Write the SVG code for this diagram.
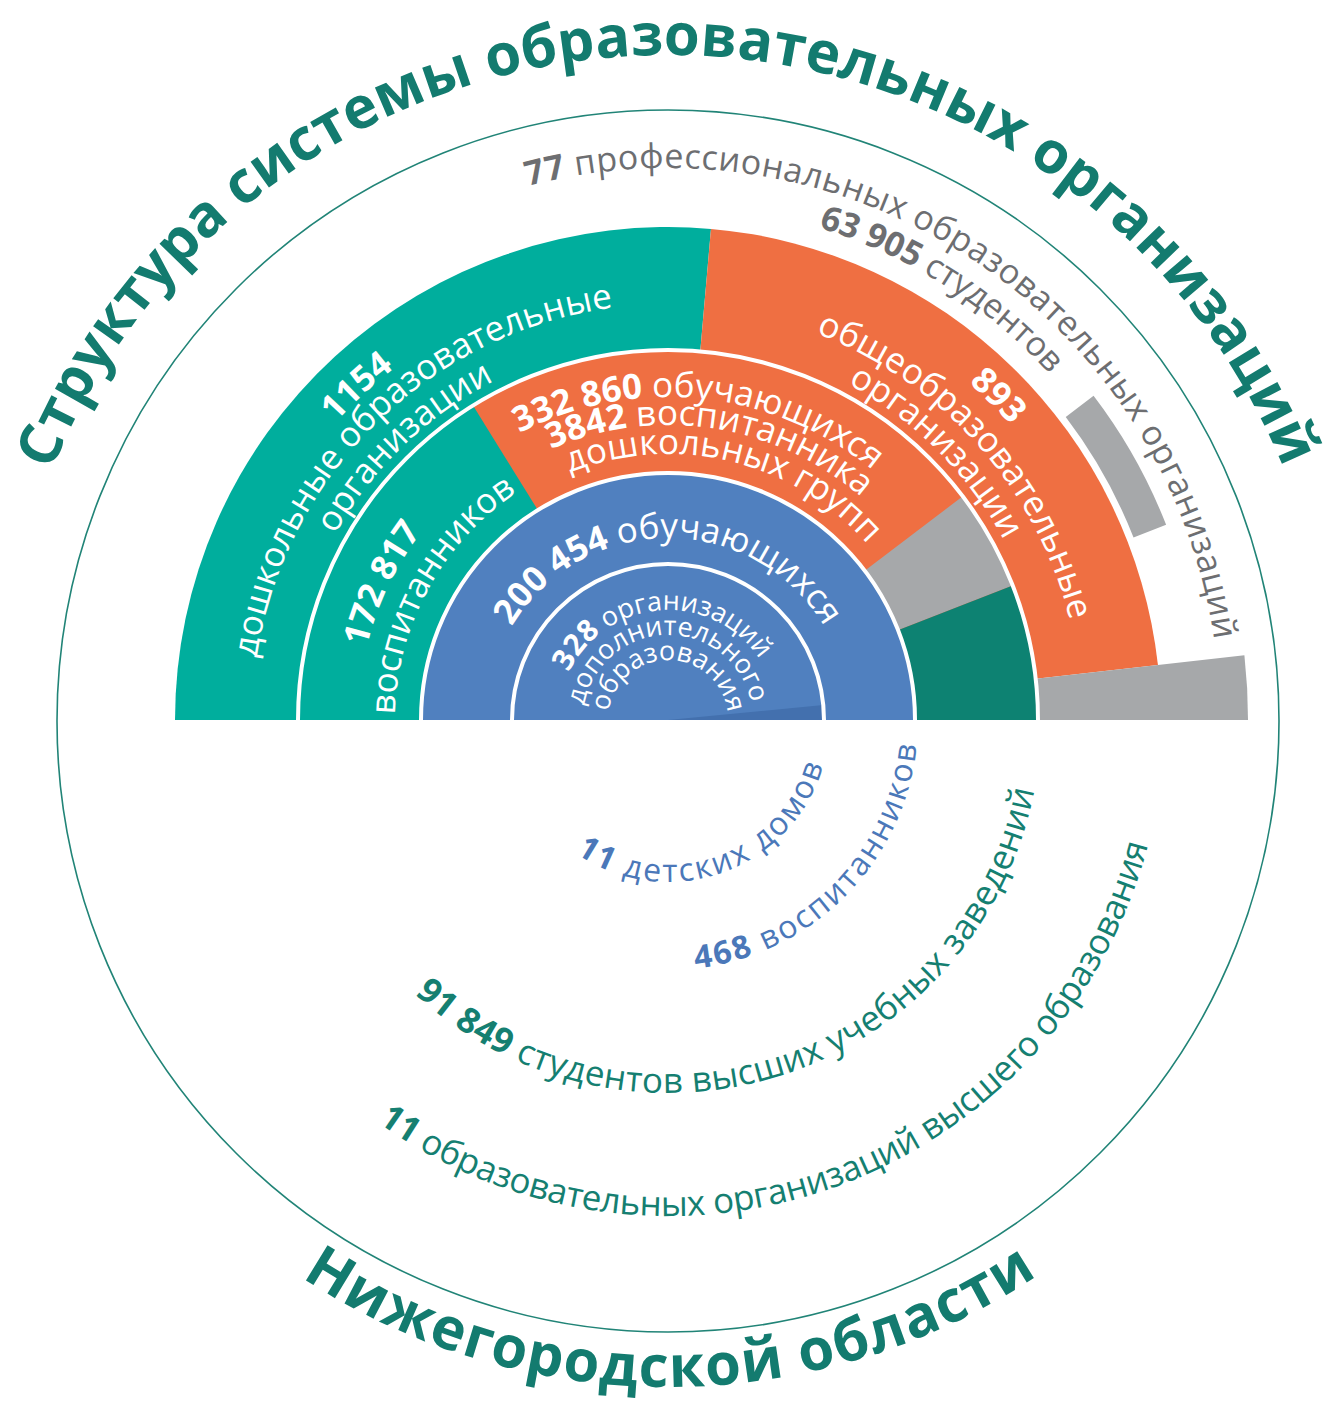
<svg xmlns="http://www.w3.org/2000/svg" width="1332" height="1404" viewBox="0 0 1332 1404">
<style>
text { font-family: "Open Sans", "Noto Sans", "DejaVu Sans", sans-serif; }
.title { font-size: 58px; font-weight: 700; fill: #137b6f; }
.ring { font-size: 35px; fill: #ffffff; }
.inner { font-size: 27px; fill: #ffffff; }
.gray { font-size: 34px; fill: #6d6e71; }
.blue { font-size: 32px; fill: #4b78b9; }
.teal { font-size: 35px; fill: #157f71; }
.b { font-weight: 700; }
.sep { fill: none; stroke: #ffffff; stroke-width: 4; }
.c-teal { fill: #00ae9d; }
.c-orange { fill: #ef6f42; }
.c-blue { fill: #5080bf; }
.c-gray { fill: #a6a8aa; }
.c-green { fill: #0d8272; }
</style>
<defs>
<path id="pTitle" d="M51.43,470.88 A665,665 0 0,1 1283.26,467.66"/>
<path id="pTitle2" d="M301.8,1277.5 A667,667 0 0,0 1037.1,1275.6"/>
<path id="p77" d="M527.92,186.07 A552,552 0 0,1 1214.22,640.31"/>
<path id="p63" d="M818.57,227.51 A515,515 0 0,1 1049.51,374.06"/>
<path id="p1154" d="M225.32,665.65 A446,446 0 0,1 644.66,274.61"/>
<path id="pDosh" d="M252.14,709.11 A416,416 0 0,1 664.37,304.02"/>
<path id="pOrg1" d="M289.09,680.17 A381,381 0 0,1 641.42,339.93"/>
<path id="p172" d="M358.11,711.88 A310,310 0 0,1 466.67,484.27"/>
<path id="pVosp" d="M395.0,718.57 A273,273 0 0,1 520.51,490.27"/>
<path id="p332" d="M487.38,452.22 A323,323 0 0,1 900.35,495.62"/>
<path id="p3842" d="M515.18,467.67 A295,295 0 0,1 889.93,525.65"/>
<path id="pDoshGr" d="M549.31,481.95 A266,266 0 0,1 881.83,561.78"/>
<path id="p200" d="M492.20,672.89 A182,182 0 0,1 843.80,672.89"/>
<path id="p328" d="M558.60,708.50 A110,110 0 0,1 774.73,693.39"/>
<path id="pDop" d="M583.01,718.52 A85,85 0 0,1 752.88,715.55"/>
<path id="pObr" d="M608.06,717.38 A60,60 0 0,1 727.98,718.43"/>
<path id="p893" d="M788.79,284.44 A452,452 0 0,1 1105.60,606.83"/>
<path id="pObsh" d="M771.66,319.19 A414,414 0 0,1 1078.46,665.96"/>
<path id="pOrg2" d="M766.61,351.98 A381,381 0 0,1 1036.02,621.39"/>
<path id="pDet" d="M575.78,853.19 A162,162 0 0,0 823.33,766.01"/>
<path id="p468" d="M695.43,968.49 A250,250 0 0,0 916.76,744.83"/>
<path id="p91" d="M414.57,993.68 A373,373 0 0,0 1034.39,789.89"/>
<path id="p11" d="M377.86,1122.29 A496,496 0 0,0 1148.20,844.19"/>
</defs>
<rect x="0" y="0" width="1332" height="1404" fill="#ffffff"/>

<g id="ring-outer">
<path class="c-teal" d="M668,720 L175,720 A493,493 0 0,1 710.97,228.88 Z"/>
<path class="c-orange" d="M668,720 L710.97,228.88 A493,493 0 0,1 1157.93,665.05 Z"/>
<path class="c-gray" d="M668,720 L1244.39,655.35 A580,580 0 0,1 1248,720 Z"/>
</g>
<g id="ring-third">
<path class="c-teal" d="M668,720 L298,720 A370,370 0 0,1 473.02,405.54 Z"/>
<path class="c-orange" d="M668,720 L473.02,405.54 A370,370 0 0,1 962.72,496.30 Z"/>
<path class="c-gray" d="M668,720 L962.72,496.30 A370,370 0 0,1 1012.73,585.60 Z"/>
<path class="c-green" d="M668,720 L1012.73,585.60 A370,370 0 0,1 1038,720 Z"/>
</g>
<g id="ring-second">
<path class="c-blue" d="M421,720 A247,247 0 0,1 915,720 Z"/>
</g>
<g id="ring-inner">
<path class="c-blue" d="M512,720 A156,156 0 0,1 824,720 Z"/>
<path fill="#4370ae" d="M668,720 L823.28,705.05 A156,156 0 0,1 824,720 Z"/>
</g>
<g id="separators">
<path class="sep" stroke-width="3" d="M512,720 A156,156 0 0,1 824,720"/>
<path class="sep" d="M421,720 A247,247 0 0,1 915,720"/>
<path class="sep" d="M298,720 A370,370 0 0,1 1038,720"/>
</g>
<g id="prof-bar">
<path class="c-gray" d="M1093.58,395.80 A535,535 0 0,1 1166.12,524.79 L1133.53,537.56 A500,500 0 0,0 1065.74,417.0 Z"/>
</g>
<g id="outer-circle">
<circle cx="668" cy="721" r="611" fill="none" stroke="#218477" stroke-width="1.6"/>
</g>

<g id="titles">
<text class="title"><textPath href="#pTitle" textLength="1575" lengthAdjust="spacing">Структура системы образовательных организаций</textPath></text>
<text class="title"><textPath href="#pTitle2" textLength="779" lengthAdjust="spacing">Нижегородской области</textPath></text>
</g>

<g id="prof-labels">
<text class="gray"><textPath href="#p77" textLength="928" lengthAdjust="spacing"><tspan class="b">77</tspan> профессиональных образовательных организаций</textPath></text>
<text class="gray"><textPath href="#p63" textLength="277" lengthAdjust="spacing"><tspan class="b">63 905</tspan> студентов</textPath></text>
</g>

<g id="preschool-labels">
<text class="ring b" text-anchor="middle" font-size="36"><textPath href="#p1154" startOffset="50%">1154</textPath></text>
<text class="ring" text-anchor="middle"><textPath href="#pDosh" startOffset="50%">дошкольные образовательные</textPath></text>
<text class="ring" text-anchor="middle"><textPath href="#pOrg1" startOffset="50%">организации</textPath></text>
<text class="ring b" text-anchor="middle"><textPath href="#p172" startOffset="50%">172 817</textPath></text>
<text class="ring" text-anchor="middle" font-size="34"><textPath href="#pVosp" startOffset="50%">воспитанников</textPath></text>
</g>

<g id="school-labels">
<text class="ring" text-anchor="middle"><textPath href="#p332" startOffset="50%"><tspan class="b">332 860</tspan> обучающихся</textPath></text>
<text class="ring" text-anchor="middle"><textPath href="#p3842" startOffset="50%"><tspan class="b">3842</tspan> воспитанника</textPath></text>
<text class="ring" text-anchor="middle"><textPath href="#pDoshGr" startOffset="50%">дошкольных групп</textPath></text>
<text class="ring b" text-anchor="middle"><textPath href="#p893" startOffset="50%">893</textPath></text>
<text class="ring" text-anchor="middle"><textPath href="#pObsh" startOffset="50%">общеобразовательные</textPath></text>
<text class="ring" text-anchor="middle"><textPath href="#pOrg2" startOffset="50%">организации</textPath></text>
</g>

<g id="additional-labels">
<text class="ring" text-anchor="middle"><textPath href="#p200" startOffset="50%"><tspan class="b">200 454</tspan> обучающихся</textPath></text>
<text class="inner" text-anchor="middle"><textPath href="#p328" startOffset="50%"><tspan class="b" font-size="30">328</tspan> организаций</textPath></text>
<text class="inner" text-anchor="middle"><textPath href="#pDop" startOffset="50%">дополнительного</textPath></text>
<text class="inner" text-anchor="middle"><textPath href="#pObr" startOffset="50%">образования</textPath></text>
</g>

<g id="lower-labels">
<text class="blue"><textPath href="#pDet" textLength="306" lengthAdjust="spacing"><tspan class="b">11</tspan> детских домов</textPath></text>
<text class="blue" font-size="33"><textPath href="#p468" textLength="340" lengthAdjust="spacing"><tspan class="b">468</tspan> воспитанников</textPath></text>
<text class="teal"><textPath href="#p91" textLength="794" lengthAdjust="spacing"><tspan class="b">91 849</tspan> студентов высших учебных заведений</textPath></text>
<text class="teal"><textPath href="#p11" textLength="963" lengthAdjust="spacing"><tspan class="b">11</tspan> образовательных организаций высшего образования</textPath></text>
</g>
</svg>
